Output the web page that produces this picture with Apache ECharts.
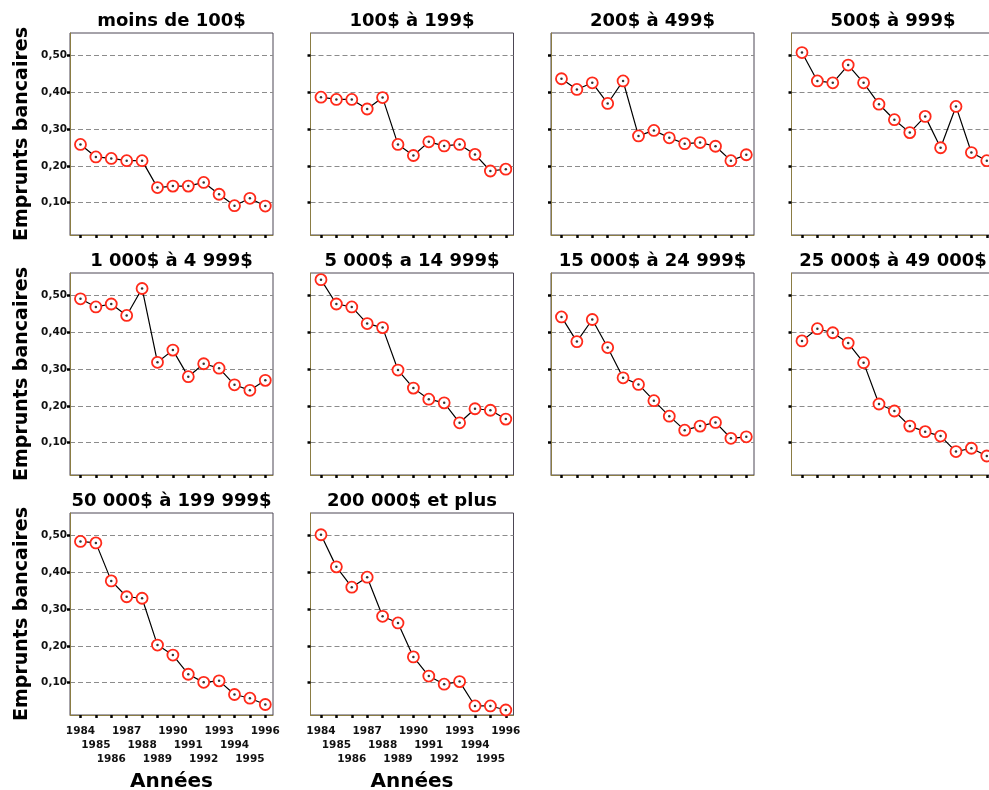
<!DOCTYPE html>
<html>
<head>
<meta charset="utf-8">
<script src="https://cdn.jsdelivr.net/npm/echarts@6/dist/echarts.min.js"></script>
<style>
  html, body { margin: 0; padding: 0; background: #fff; }
  #chart { width: 989px; height: 790px; }
</style>
</head>
<body>
<div id="chart"></div>
<script>
// Years on the horizontal axis
const years = [1984, 1985, 1986, 1987, 1988, 1989, 1990, 1991, 1992, 1993, 1994, 1995, 1996];
const yearLabels = ['1984', '1985', '1986', '1987', '1988', '1989', '1990', '1991', '1992', '1993', '1994', '1995', '1996'];

// Vertical axis ticks and their French-formatted labels
const yTicks = [0.1, 0.2, 0.3, 0.4, 0.5];
const yTickLabels = ['0,10', '0,20', '0,30', '0,40', '0,50'];

// Panel titles (asset size classes)
const panelTitles = [
  'moins de 100$', '100$ à 199$', '200$ à 499$', '500$ à 999$',
  '1 000$ à 4 999$', '5 000$ a 14 999$', '15 000$ à 24 999$', '25 000$ à 49 000$',
  '50 000$ à 199 999$', '200 000$ et plus'
];

// Share of bank loans, one series per size class
const moins100 = [0.258, 0.224, 0.220, 0.214, 0.214, 0.141, 0.145, 0.145, 0.155, 0.123, 0.092, 0.112, 0.091];
const de100a199 = [0.386, 0.380, 0.380, 0.354, 0.385, 0.258, 0.228, 0.265, 0.254, 0.258, 0.231, 0.186, 0.191];
const de200a499 = [0.436, 0.407, 0.425, 0.369, 0.430, 0.281, 0.296, 0.276, 0.260, 0.263, 0.253, 0.214, 0.230];
const de500a999 = [0.507, 0.430, 0.425, 0.473, 0.425, 0.367, 0.325, 0.290, 0.334, 0.249, 0.361, 0.236, 0.214];
const de1000a4999 = [0.490, 0.468, 0.476, 0.445, 0.518, 0.318, 0.351, 0.279, 0.314, 0.302, 0.257, 0.242, 0.269];
const de5000a14999 = [0.542, 0.476, 0.468, 0.423, 0.412, 0.297, 0.248, 0.218, 0.208, 0.154, 0.192, 0.188, 0.164];
const de15000a24999 = [0.441, 0.374, 0.434, 0.358, 0.276, 0.258, 0.214, 0.172, 0.134, 0.145, 0.155, 0.112, 0.116];
const de25000a49000 = [0.376, 0.409, 0.398, 0.370, 0.317, 0.205, 0.186, 0.145, 0.130, 0.118, 0.076, 0.085, 0.064];
const de50000a199999 = [0.483, 0.479, 0.376, 0.333, 0.329, 0.202, 0.175, 0.123, 0.101, 0.105, 0.068, 0.058, 0.041];
const plus200000 = [0.501, 0.414, 0.359, 0.386, 0.280, 0.262, 0.170, 0.118, 0.096, 0.103, 0.037, 0.037, 0.026];

const panelValues = [
  moins100, de100a199, de200a499, de500a999,
  de1000a4999, de5000a14999, de15000a24999, de25000a49000,
  de50000a199999, plus200000
];

const FONT = 'DejaVu Sans';
const RED = '#ff2a1a';
const AXIS_OLIVE = '#8a7c44';
const COLS = 4;
const PANEL_W = 203;
const PANEL_H = 202;
const COL_STEP = 240.5;
const ROW_STEP = 240;
const LEFT0 = 70;
const TOP0 = 33;
const X_MIN = 1983.32;
const X_MAX = 1996.5;
const LABEL_ROW_STEP = 14;   // vertical step between the staggered year-label rows

const grids = [], xAxes = [], yAxes = [], series = [], titles = [];

panelTitles.forEach((name, i) => {
  const col = i % COLS;
  const row = Math.floor(i / COLS);
  const left = LEFT0 + col * COL_STEP;
  const top = TOP0 + row * ROW_STEP;
  const isBottom = row === 2;
  const isLeft = col === 0;

  grids.push({
    left: left, top: top, width: PANEL_W, height: PANEL_H,
    show: true, borderColor: '#4c4654', borderWidth: 1, backgroundColor: '#fff',
    containLabel: false,
    outerBoundsMode: 'none'
  });

  titles.push({
    text: name,
    left: left + PANEL_W / 2,
    top: 12 + row * ROW_STEP,
    textAlign: 'center',
    padding: 0,
    textStyle: { fontFamily: FONT, fontWeight: 'bold', fontSize: 18, color: '#000' }
  });

  // Main x axis of the panel: line, ticks, and (bottom row) the first label row + name
  const mainXIndex = xAxes.length;
  xAxes.push({
    gridIndex: i,
    type: 'value',
    position: 'bottom',
    min: X_MIN,
    max: X_MAX,
    name: isBottom ? 'Années' : '',
    nameLocation: 'middle',
    nameGap: 57,
    nameTextStyle: { fontFamily: FONT, fontWeight: 'bold', fontSize: 20, color: '#000', verticalAlign: 'top' },
    axisLine: { show: true, onZero: false, lineStyle: { color: AXIS_OLIVE, width: 1 } },
    axisTick: { show: true, inside: false, length: 3, customValues: years, lineStyle: { color: '#000', width: 2.5 } },
    axisLabel: {
      show: isBottom,
      customValues: years.filter((y, k) => k % 3 === 0),
      showMinLabel: true,
      showMaxLabel: true,
      margin: 11,
      fontFamily: FONT, fontSize: 10.5, fontWeight: 'bold', color: '#111',
      formatter: (v) => yearLabels[years.indexOf(Math.round(v))]
    },
    splitLine: { show: false }
  });

  // Staggered second and third label rows for the bottom panels
  if (isBottom) {
    [1, 2].forEach((r) => {
      xAxes.push({
        gridIndex: i,
        type: 'value',
        position: 'bottom',
        min: X_MIN,
        max: X_MAX,
        axisLine: { show: false },
        axisTick: { show: false },
        splitLine: { show: false },
        axisLabel: {
          show: true,
          customValues: years.filter((y, k) => k % 3 === r),
          showMinLabel: true,
          showMaxLabel: true,
          margin: 11 + r * LABEL_ROW_STEP,
          fontFamily: FONT, fontSize: 10.5, fontWeight: 'bold', color: '#111',
          formatter: (v) => yearLabels[years.indexOf(Math.round(v))]
        }
      });
    });
  }

  yAxes.push({
    gridIndex: i,
    type: 'value',
    min: 0.0125,
    max: 0.56,
    name: isLeft ? 'Emprunts bancaires' : '',
    nameLocation: 'middle',
    nameRotate: 90,
    nameGap: 38,
    nameTextStyle: { fontFamily: FONT, fontWeight: 'bold', fontSize: 19, color: '#000' },
    axisLine: { show: true, lineStyle: { color: AXIS_OLIVE, width: 1 } },
    axisTick: { show: true, inside: false, length: 3, customValues: yTicks, lineStyle: { color: '#000', width: 2.5 } },
    axisLabel: {
      show: isLeft,
      customValues: yTicks,
      margin: 3,
      fontFamily: FONT, fontSize: 10.5, fontWeight: 'bold', color: '#111',
      formatter: (v) => {
        const k = yTicks.findIndex(t => Math.abs(t - v) < 1e-6);
        return k >= 0 ? yTickLabels[k] : '';
      }
    },
    splitLine: { show: true, lineStyle: { color: '#8c8c8c', width: 1, type: [5, 3] } }
  });

  const pts = years.map((y, k) => [y, panelValues[i][k]]);

  series.push({
    type: 'line',
    xAxisIndex: mainXIndex,
    yAxisIndex: i,
    data: pts,
    symbol: 'circle',
    symbolSize: 11,
    showSymbol: true,
    lineStyle: { color: '#000', width: 1.2 },
    itemStyle: { color: '#fff', borderColor: RED, borderWidth: 1.8 },
    emphasis: { disabled: true },
    animation: false,
    z: 2
  });
  series.push({
    type: 'scatter',
    xAxisIndex: mainXIndex,
    yAxisIndex: i,
    data: pts,
    symbol: 'circle',
    symbolSize: 2.5,
    itemStyle: { color: '#000' },
    emphasis: { disabled: true },
    animation: false,
    z: 3
  });
});

const chart = echarts.init(document.getElementById('chart'), null, { renderer: 'canvas' });
chart.setOption({
  backgroundColor: '#fff',
  animation: false,
  title: titles,
  grid: grids,
  xAxis: xAxes,
  yAxis: yAxes,
  series: series
});
</script>
</body>
</html>
